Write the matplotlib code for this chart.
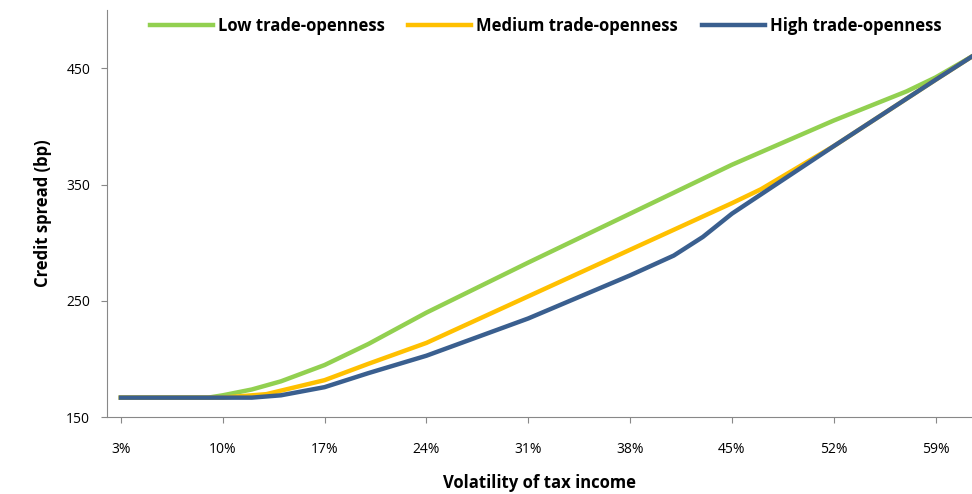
import matplotlib
matplotlib.use("Agg")
import matplotlib.pyplot as plt

plt.rcParams['font.family'] = ['Open Sans', 'DejaVu Sans']

# volatility of tax income (%) and credit spreads (bp)
low_x = [3, 6, 9, 10, 12, 14, 17, 20, 24, 31, 38, 45, 52, 57, 59, 61.5]
low_y = [167, 167, 167, 169, 174, 181, 195, 213, 240, 283, 325, 367, 405, 430, 442, 460]
med_x = [3, 6, 10, 13, 17, 20, 24, 31, 38, 45, 47, 52, 59, 61.5]
med_y = [167, 167, 167, 170, 182, 196, 214, 254, 294, 334, 346, 383, 440, 460]
high_x = [3, 6, 10, 12, 14, 17, 20, 24, 31, 38, 41, 43, 45, 52, 59, 61.5]
high_y = [167, 167, 167, 167, 169, 176, 188, 203, 235, 272, 289, 305, 325, 383, 440, 460]
xticks = [3, 10, 17, 24, 31, 38, 45, 52, 59]
yticks = [150, 250, 350, 450]

fig, ax = plt.subplots(figsize=(9.72, 4.94), dpi=100)
fig.subplots_adjust(left=0.11, right=1.0, top=0.98, bottom=0.155)

ax.plot(low_x, low_y, color='#92D050', lw=3.2, label='Low trade-openness')
ax.plot(med_x, med_y, color='#FFC000', lw=3.2, label='Medium trade-openness')
ax.plot(high_x, high_y, color='#3A5F8F', lw=3.2, label='High trade-openness')

ax.set_xlim(2.04, 61.5)
ax.set_ylim(150, 500)
ax.set_xticks(xticks)
ax.set_xticklabels(['{}%'.format(t) for t in xticks])
ax.set_yticks(yticks)
ax.tick_params(labelsize=10, length=4, color='#888888')
ax.tick_params(axis='x', pad=14)
ax.tick_params(axis='y', pad=8)
for s in ['top', 'right']:
    ax.spines[s].set_visible(False)
for s in ['left', 'bottom']:
    ax.spines[s].set_color('#888888')

ax.set_xlabel('Volatility of tax income', fontsize=12, fontweight='bold', labelpad=12)
ax.set_ylabel('Credit spread (bp)', fontsize=12, fontweight='bold', labelpad=10)

leg = ax.legend(loc='upper center', bbox_to_anchor=(0.507, 1.02), ncol=3, frameon=False,
                handlelength=3.8, columnspacing=1.4, handletextpad=0.3,
                prop={'weight': 'bold', 'size': 12})

fig.savefig('out.png')
